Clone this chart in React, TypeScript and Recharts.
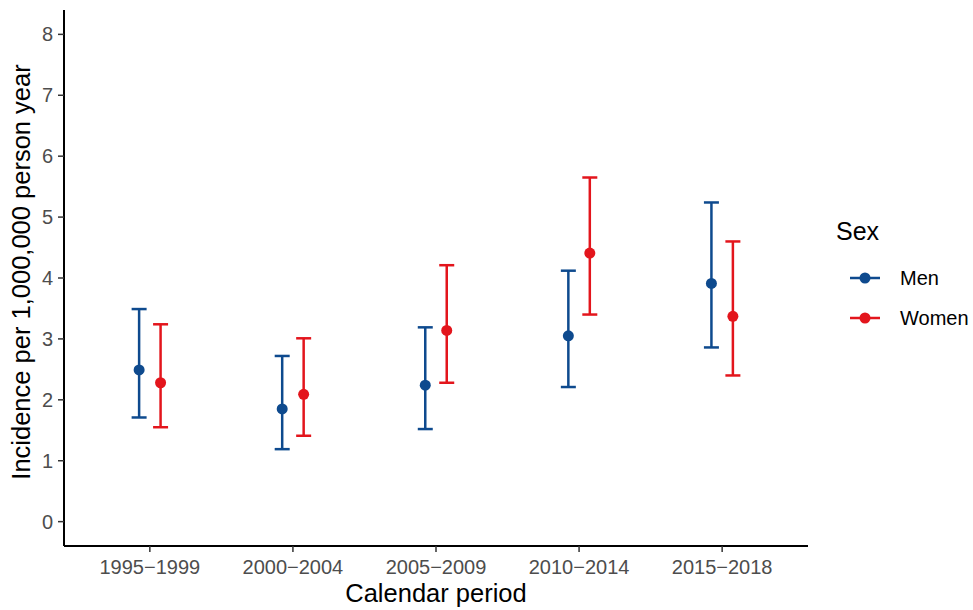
import { ComposedChart, Scatter, ErrorBar, XAxis, YAxis } from 'recharts'

const periods = ['1995\u22121999', '2000\u22122004', '2005\u22122009', '2010\u22122014', '2015\u22122018']
const yTicks = [0, 1, 2, 3, 4, 5, 6, 7, 8]

const menRate = [2.49, 1.85, 2.24, 3.05, 3.91]
const menLower = [1.71, 1.19, 1.52, 2.21, 2.86]
const menUpper = [3.49, 2.72, 3.19, 4.12, 5.24]

const womenRate = [2.28, 2.09, 3.14, 4.41, 3.37]
const womenLower = [1.55, 1.41, 2.28, 3.40, 2.40]
const womenUpper = [3.24, 3.01, 4.21, 5.65, 4.60]

const MEN = '#0E4A8E'
const WOMEN = '#E3151C'
const FONT = '"Liberation Sans", Arial, sans-serif'

// dodge the two groups around each category position
const build = (rate: number[], lo: number[], hi: number[], shift: number) =>
  rate.map((r, i) => ({ x: i + 1 + shift, y: r, err: [r - lo[i], hi[i] - r] }))

const menData = build(menRate, menLower, menUpper, -0.075)
const womenData = build(womenRate, womenLower, womenUpper, 0.075)

const dot = (color: string) => (props: any) => (
  <circle cx={props.cx} cy={props.cy} r={5.5} fill={color} />
)

function LegendKey({ color, label, top }: { color: string; label: string; top: number }) {
  return (
    <div style={{ position: 'absolute', left: 848, top: top - 14, height: 28, display: 'flex', alignItems: 'center' }}>
      <svg width={34} height={28}>
        <line x1={2} x2={32} y1={14} y2={14} stroke={color} strokeWidth={2.5} />
        <circle cx={17} cy={14} r={5.5} fill={color} />
      </svg>
      <span style={{ marginLeft: 18, fontSize: 20, color: '#000' }}>{label}</span>
    </div>
  )
}

export default function App() {
  return (
    <div style={{ position: 'absolute', left: 0, top: 0, width: 973, height: 610, background: '#fff', fontFamily: FONT }}>
      <ComposedChart width={973} height={610} margin={{ top: 10, right: 165, bottom: 0, left: 0 }}>
        <XAxis
          type="number"
          dataKey="x"
          domain={[0.4, 5.6]}
          ticks={[1, 2, 3, 4, 5]}
          tickFormatter={(v: number) => periods[v - 1]}
          allowDataOverflow
          height={64}
          tickSize={6}
          tickMargin={8}
          axisLine={{ stroke: '#000', strokeWidth: 2 }}
          tickLine={{ stroke: '#333', strokeWidth: 1.5 }}
          tick={{ fill: '#4D4D4D', fontSize: 20, fontFamily: FONT }}
          label={{
            content: () => (
              <text x={436} y={602} textAnchor="middle" fontSize={25.5} fill="#000" fontFamily={FONT}>
                Calendar period
              </text>
            ),
          }}
        />
        <YAxis
          type="number"
          domain={[-0.4, 8.4]}
          ticks={yTicks}
          allowDataOverflow
          width={64}
          tickSize={6}
          tickMargin={5}
          axisLine={{ stroke: '#000', strokeWidth: 2 }}
          tickLine={{ stroke: '#333', strokeWidth: 1.5 }}
          tick={{ fill: '#4D4D4D', fontSize: 20, fontFamily: FONT }}
          label={{
            content: () => (
              <text
                x={30}
                y={272}
                transform="rotate(-90 30 272)"
                textAnchor="middle"
                fontSize={25.5}
                fill="#000"
                fontFamily={FONT}
              >
                Incidence per 1,000,000 person year
              </text>
            ),
          }}
        />
        <Scatter data={menData} dataKey="y" fill={MEN} shape={dot(MEN)} isAnimationActive={false}>
          <ErrorBar dataKey="err" direction="y" width={7.5} stroke={MEN} strokeWidth={2.5} isAnimationActive={false} />
        </Scatter>
        <Scatter data={womenData} dataKey="y" fill={WOMEN} shape={dot(WOMEN)} isAnimationActive={false}>
          <ErrorBar dataKey="err" direction="y" width={7.5} stroke={WOMEN} strokeWidth={2.5} isAnimationActive={false} />
        </Scatter>
      </ComposedChart>
      <div style={{ position: 'absolute', left: 836, top: 217, fontSize: 25, color: '#000' }}>Sex</div>
      <LegendKey color={MEN} label="Men" top={278} />
      <LegendKey color={WOMEN} label="Women" top={318} />
    </div>
  )
}
